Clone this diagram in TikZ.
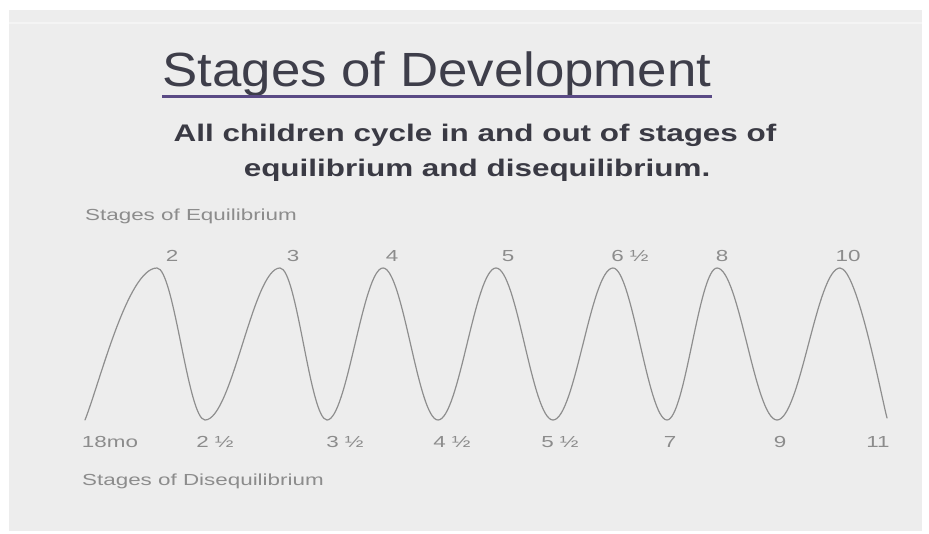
\documentclass[tikz,border=0pt]{standalone}
\usepackage{fontspec}
\setmainfont{Liberation Sans}
\definecolor{panel}{HTML}{EDEDED}
\definecolor{titlecol}{HTML}{3E3E4A}
\definecolor{ulcol}{HTML}{5A4A85}
\definecolor{subcol}{HTML}{3A3A44}
\definecolor{labcol}{HTML}{8C8C8C}
\definecolor{curvecol}{HTML}{8E8E8E}
\tikzset{
  smalllab/.style={text=labcol, inner sep=0pt, font=\fontsize{16}{16}\selectfont},
  toplab/.style={smalllab, anchor=base},
  botlab/.style={smalllab, anchor=base},
  wave/.style={draw=curvecol, line width=1.2pt, line join=round, line cap=round}
}
\newcommand{\sx}[1]{\scalebox{1.4}[1]{#1}}
\begin{document}
\begin{tikzpicture}[x=1pt,y=-1pt]
\useasboundingbox (0,0) rectangle (929,534);
\fill[white] (0,0) rectangle (929,534);
\fill[panel] (9,10) rectangle (922,531);
\draw[white!40!panel, line width=1.5pt] (9,23) -- (922,23);

% title
\node[anchor=base, inner sep=0pt, text=titlecol, font=\fontsize{48}{48}\selectfont] (title) at (437,87) {\scalebox{1.1}[1]{Stages of Development}};
\coordinate (ulA) at (162,97);
\coordinate (ulB) at (712,97);
\draw[ulcol, line width=3pt] (ulA) -- (ulB);

% subtitle
\node[anchor=base, inner sep=0pt, text=subcol, font=\bfseries\fontsize{24}{24}\selectfont] (sub1) at (475,142) {\scalebox{1.31}[1]{All children cycle in and out of stages of}};
\node[anchor=base, inner sep=0pt, text=subcol, font=\bfseries\fontsize{24}{24}\selectfont] (sub2) at (477,177) {\scalebox{1.31}[1]{equilibrium and disequilibrium.}};

% axis captions
\node[smalllab, anchor=base west] (eq) at (85,221) {\sx{Stages of Equilibrium}};
\node[smalllab, anchor=base west] (dis) at (82,485) {\sx{Stages of Disequilibrium}};

% wave
\draw[wave] (85,420)
  .. controls (100,382) and (128,268) .. (157,268)
  .. controls (174,268) and (188,420) .. (205,420)
  .. controls (232,420) and (253,268) .. (280,268)
  .. controls (297,268) and (310,420) .. (327,420)
  .. controls (347,420) and (363,268) .. (383,268)
  .. controls (403,268) and (418,420) .. (438,420)
  .. controls (459,420) and (475,268) .. (496,268)
  .. controls (517,268) and (532,420) .. (553,420)
  .. controls (575,420) and (591,268) .. (613,268)
  .. controls (632,268) and (648,420) .. (667,420)
  .. controls (685,420) and (699,268) .. (717,268)
  .. controls (739,268) and (755,420) .. (777,420)
  .. controls (800,420) and (817,268) .. (840,268)
  .. controls (857,268) and (881,395) .. (887,418);

% top labels
\node[toplab] (p1) at (172,262) {\sx{2}};
\node[toplab] (p2) at (293,262) {\sx{3}};
\node[toplab] (p3) at (392,262) {\sx{4}};
\node[toplab] (p4) at (508,262) {\sx{5}};
\node[toplab] (p5) at (630,262) {\sx{6 ½}};
\node[toplab] (p6) at (722,262) {\sx{8}};
\node[toplab] (p7) at (848,262) {\sx{10}};

% bottom labels
\node[botlab] (t0) at (110,447) {\sx{18mo}};
\node[botlab] (t1) at (215,447) {\sx{2 ½}};
\node[botlab] (t2) at (345,447) {\sx{3 ½}};
\node[botlab] (t3) at (452,447) {\sx{4 ½}};
\node[botlab] (t4) at (560,447) {\sx{5 ½}};
\node[botlab] (t5) at (670,447) {\sx{7}};
\node[botlab] (t6) at (780,447) {\sx{9}};
\node[botlab] (t7) at (878,447) {\sx{11}};
\end{tikzpicture}
\end{document}
